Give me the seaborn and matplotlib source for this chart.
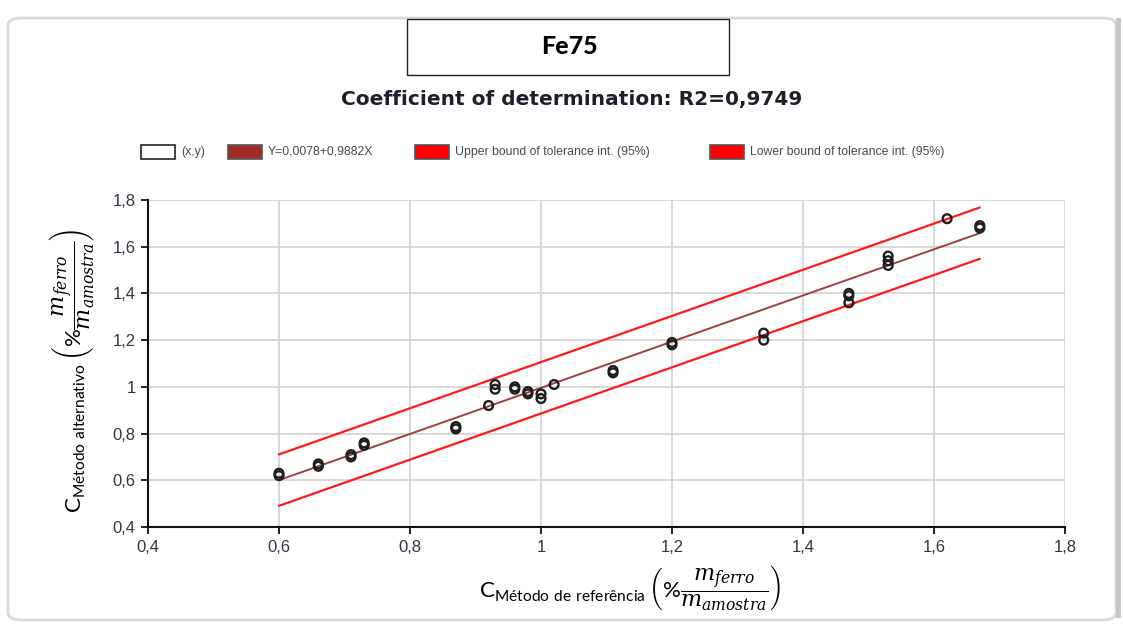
import matplotlib
matplotlib.use("Agg")
import matplotlib.pyplot as plt
from matplotlib.patches import Rectangle, FancyBboxPatch
import numpy as np
import pandas as pd
import seaborn as sns

# ---------------- data ----------------
x_ref = [0.60, 0.60, 0.66, 0.66, 0.71, 0.71, 0.73, 0.73, 0.87, 0.87, 0.92,
         0.93, 0.93, 0.96, 0.96, 0.98, 0.98, 1.00, 1.00, 1.02, 1.11, 1.11,
         1.20, 1.20, 1.34, 1.34, 1.47, 1.47, 1.47, 1.53, 1.53, 1.53, 1.62,
         1.67, 1.67]
y_alt = [0.62, 0.63, 0.66, 0.67, 0.70, 0.71, 0.75, 0.76, 0.82, 0.83, 0.92,
         1.01, 0.99, 0.99, 1.00, 0.97, 0.98, 0.95, 0.97, 1.01, 1.06, 1.07,
         1.18, 1.19, 1.23, 1.20, 1.39, 1.40, 1.36, 1.56, 1.54, 1.52, 1.72,
         1.68, 1.69]
intercept = 0.0078
slope = 0.9882
tol_half_width = 0.11
r2_text = "0,9749"
chart_name = "Fe75"
x_ticks = [0.4, 0.6, 0.8, 1.0, 1.2, 1.4, 1.6, 1.8]
y_ticks = [0.4, 0.6, 0.8, 1.0, 1.2, 1.4, 1.6, 1.8]
legend_labels = ["(x,y)", "Y=0,0078+0,9882X",
                 "Upper bound of tolerance int. (95%)",
                 "Lower bound of tolerance int. (95%)"]

def fmt(v):
    s = f"{v:.1f}".replace(".", ",")
    return "1" if s == "1,0" else s

# ---------------- style ----------------
sns.set_theme(style="white")
plt.rcParams['font.family'] = ['Liberation Sans', 'DejaVu Sans']
plt.rcParams['mathtext.fontset'] = 'custom'
plt.rcParams['mathtext.rm'] = 'Lato'
plt.rcParams['mathtext.sf'] = 'Lato'
plt.rcParams['mathtext.it'] = 'DejaVu Serif:italic'
plt.rcParams['mathtext.bf'] = 'Lato:bold'

W, H = 1123, 626
fig = plt.figure(figsize=(W / 100, H / 100), dpi=100)
fig.patch.set_facecolor("white")

def fx(px):
    return px / W

def fy(py):
    return 1 - py / H

# outer rounded frame
frame = FancyBboxPatch((fx(8), fy(620)), fx(1108), (612 - 10) / H,
                       boxstyle="round,pad=0,rounding_size=0.012",
                       transform=fig.transFigure, fc="none", ec="#d9d9d9", lw=2.0)
fig.patches.append(frame)
shadow = Rectangle((fx(1116), fy(618)), fx(5), 600 / H, transform=fig.transFigure,
                   fc="#c8c8c8", ec="none")
fig.patches.append(shadow)

# axes
ax = fig.add_axes([fx(148), fy(527), fx(1065 - 148), (527 - 200) / H])

pts = pd.DataFrame({"x": x_ref, "y": y_alt})
xs = np.array([min(x_ref), max(x_ref)])
fit = intercept + slope * xs
lines = pd.DataFrame({"x": np.concatenate([xs, xs, xs]),
                      "y": np.concatenate([fit + tol_half_width, fit - tol_half_width, fit]),
                      "kind": ["upper"] * 2 + ["lower"] * 2 + ["fit"] * 2})

sns.lineplot(data=lines[lines.kind == "upper"], x="x", y="y", color="#ff1a1a",
             lw=1.6, estimator=None, sort=False, ax=ax, zorder=3)
sns.lineplot(data=lines[lines.kind == "lower"], x="x", y="y", color="#ff1a1a",
             lw=1.6, estimator=None, sort=False, ax=ax, zorder=3)
sns.lineplot(data=lines[lines.kind == "fit"], x="x", y="y", color="#9e4040",
             lw=1.4, estimator=None, sort=False, ax=ax, zorder=3)
sns.scatterplot(data=pts, x="x", y="y", marker="o", s=40, facecolor="none",
                edgecolor="#1e1e1e", linewidth=1.7, ax=ax, zorder=4)

ax.set_xlim(0.4, 1.8)
ax.set_ylim(0.4, 1.8)
ax.set_xticks(x_ticks)
ax.set_yticks(y_ticks)
ax.set_xticklabels([fmt(v) for v in x_ticks])
ax.set_yticklabels([fmt(v) for v in y_ticks])
ax.set_xlabel("")
ax.set_ylabel("")
ax.grid(True, color="#d2d2d2", lw=1.2)
ax.set_axisbelow(True)
for s in ["top", "right"]:
    ax.spines[s].set_visible(False)
for s in ["left", "bottom"]:
    ax.spines[s].set_color("#111111")
    ax.spines[s].set_linewidth(1.5)
ax.tick_params(axis="both", which="major", direction="out", length=5, width=1.3,
               color="#111111", labelsize=12, labelcolor="#343444", pad=4)
ax.tick_params(left=True, bottom=True)

# title box
box = Rectangle((fx(407), fy(75)), fx(729 - 407), (75 - 19) / H,
                transform=fig.transFigure, fc="white", ec="#222222", lw=1.0)
fig.patches.append(box)
fig.text(fx(569), fy(47), chart_name, ha="center", va="center", fontsize=18,
         fontweight="black", family="Lato", color="#000000")
fig.text(fx(572), fy(100), "Coefficient of determination: R2=" + r2_text,
         ha="center", va="center", fontsize=14.5, fontweight="bold",
         family="DejaVu Sans", color="#1f1f2a")

# legend
leg_boxes = [(141, "white", "#222222"), (228, "#a52a2a", "#555555"),
             (415, "#ff0000", "#555555"), (710, "#ff0000", "#555555")]
for (bx, fc, ec), lab in zip(leg_boxes, legend_labels):
    fig.patches.append(Rectangle((fx(bx), fy(159)), fx(34), 14 / H,
                                 transform=fig.transFigure, fc=fc, ec=ec, lw=1.2))
    fig.text(fx(bx + 40), fy(152), lab, ha="left", va="center", fontsize=8.8,
             color="#4a4a4a")

# axis labels
xlab = r"$\mathrm{C}_{\mathrm{Método\ de\ referência}}\,\left(\%\dfrac{m_{ferro}}{m_{amostra}}\right)$"
ylab = r"$\mathrm{C}_{\mathrm{Método\ alternativo}}\,\left(\%\dfrac{m_{ferro}}{m_{amostra}}\right)$"
fig.text(fx(630), fy(587), xlab, ha="center", va="center", fontsize=16, color="black")
fig.text(fx(72), fy(371), ylab, ha="center", va="center", fontsize=16,
         rotation=90, color="black")

fig.savefig("out.png", dpi=100)
